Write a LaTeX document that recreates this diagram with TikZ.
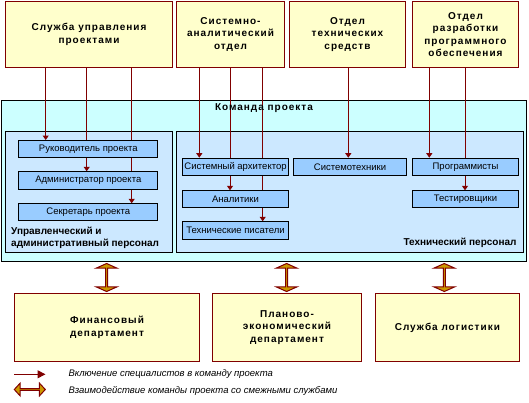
\documentclass[tikz,border=0pt]{standalone}
\usepackage{fontspec}
\setmainfont{Liberation Sans}
\newfontfamily\hdfont[LetterSpace=10]{Liberation Sans}
\usepackage{tikz}
\usetikzlibrary{arrows.meta,shapes.arrows}
\definecolor{dred}{HTML}{800000}
\definecolor{paley}{HTML}{FFFFCC}
\definecolor{teamc}{HTML}{CCFFFF}
\definecolor{grpc}{HTML}{CCE8FF}
\definecolor{cellc}{HTML}{99CCFF}
\definecolor{goldc}{HTML}{CC9900}
\pgfdeclarelayer{bg}
\pgfdeclarelayer{lines}
\pgfsetlayers{bg,lines,main}
\tikzset{
  dept/.style={draw=dred,line width=1pt,fill=paley,anchor=north west,inner sep=0pt,align=center,
    font=\hdfont\bfseries\fontsize{10}{12.5}\selectfont},
  grp/.style={draw=black,line width=1pt,fill=grpc,anchor=north west,inner sep=0pt},
  cell/.style={draw=black,line width=1pt,fill=cellc,anchor=north west,inner sep=0pt,
    font=\fontsize{9.5}{11}\selectfont},
  lbl/.style={inner sep=0pt,align=left,font=\bfseries\fontsize{10}{12}\selectfont},
  ar/.style={-{Triangle[length=4.5pt,width=6pt]},line width=1pt,dred},
  dbl/.style={double arrow,draw=dred,line width=1pt,fill=goldc,inner sep=0pt,rotate=90,
    minimum height=28pt,minimum width=21pt,double arrow head extend=4.5pt,double arrow tip angle=132},
  leg/.style={anchor=west,inner sep=0pt,font=\itshape\fontsize{9.5}{11}\selectfont}
}
\begin{document}
\begin{tikzpicture}[x=1pt,y=-1pt]
\useasboundingbox (0,0) rectangle (529,402);
% departments
\node[dept,minimum width=167,minimum height=66] (sup) at (5,1) {Служба управления\\проектами};
\node[dept,minimum width=108,minimum height=66] (san) at (176,1) {Системно-\\аналитический\\отдел};
\node[dept,minimum width=116,minimum height=66] (tech) at (289,1) {Отдел\\технических\\средств};
\node[dept,minimum width=106,minimum height=66] (dev) at (412,1) {Отдел\\разработки\\программного\\обеспечения};
% project team
\begin{pgfonlayer}{bg}
\node[draw=black,line width=1pt,fill=teamc,anchor=north west,minimum width=525,minimum height=161,inner sep=0pt] (team) at (1,100) {};
\node[grp,minimum width=166.4,minimum height=120.7] (lg) at (5.3,131) {};
\node[grp,minimum width=347.3,minimum height=120.7] (rg) at (176,131) {};
\end{pgfonlayer}
\node[font=\hdfont\bfseries\fontsize{10}{12}\selectfont] (ttl) at ([yshift=-8.3pt]team.north) {Команда проекта};
\node[cell,minimum width=139,minimum height=17.3] (rp) at (18.3,140) {Руководитель проекта};
\node[cell,minimum width=139,minimum height=17.7] (ap) at (18.3,171.3) {Администратор проекта};
\node[cell,minimum width=139,minimum height=17] (sp) at (18.3,203.3) {Секретарь проекта};
\node[cell,minimum width=106.6,minimum height=17.6] (sa) at (181.7,157.7) {Системный архитектор};
\node[cell,minimum width=106.6,minimum height=17] (an) at (181.7,190.3) {Аналитики};
\node[cell,minimum width=106.6,minimum height=17.4] (tw) at (181.7,221.3) {Технические писатели};
\node[cell,minimum width=112.4,minimum height=17.6] (st) at (293.3,157.7) {Системотехники};
\node[cell,minimum width=106.6,minimum height=17.6] (pr) at (411.7,157.7) {Программисты};
\node[cell,minimum width=106.6,minimum height=17] (ts) at (411.7,190.3) {Тестировщики};
\node[lbl,anchor=west] (lgl) at (11,237.5) {Управленческий и\\административный персонал};
\node[lbl,anchor=east] (rgl) at (516.7,243) {Технический персонал};
% inclusion of specialists
\begin{pgfonlayer}{lines}
\foreach \x/\s/\t in {45.7/sup/rp,86.7/sup/ap,131.7/sup/sp,199.3/san/sa,230/san/an,262.7/san/tw,348.3/tech/st,429.3/dev/pr,465/dev/ts}
  \draw[ar] (\s.south -| \x,0) -- (\t.north -| \x,0);
\end{pgfonlayer}
% related services
\node[dept,minimum width=185,minimum height=67.4] (fin) at (14,293.3) {Финансовый\\департамент};
\node[dept,minimum width=148.4,minimum height=67.4] (plan) at (212.3,293.3) {Планово-\\экономический\\департамент};
\node[dept,minimum width=143.7,minimum height=67.4] (log) at (375,293.3) {Служба логистики};
\foreach \d/\x in {fin/106.6,plan/286.6,log/444.3}
  \node[dbl] (i\d) at (\x,277.5) {};
% legend
\coordinate (la) at (14,374.3);
\coordinate (lb) at (45.5,374.3);
\draw[-{Triangle[length=8pt,width=8pt]},line width=1pt,dred] (la) -- (lb);
\node[dbl,rotate=-90,minimum height=31,minimum width=12.7,double arrow head extend=3.4pt,double arrow tip angle=95] (ld) at (29.8,389.5) {};
\node[leg] (lt1) at (68.3,374.3) {Включение специалистов в команду проекта};
\node[leg] (lt2) at (68.3,390.5) {Взаимодействие команды проекта со смежными службами};
\end{tikzpicture}
\end{document}
